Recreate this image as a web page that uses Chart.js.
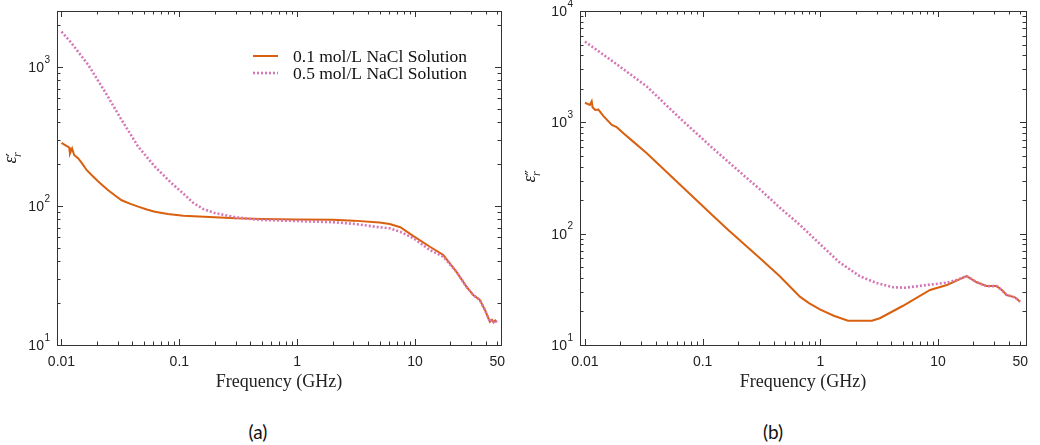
<!DOCTYPE html>
<html>
<head>
<meta charset="utf-8">
<script src="https://cdn.jsdelivr.net/npm/chart.js@4.4.1/dist/chart.umd.min.js"></script>
<style>
  html, body { margin: 0; padding: 0; background: #fff; }
  #wrap { position: relative; width: 1040px; height: 445px; }
  .panel { position: absolute; top: 0; width: 520px; height: 400px; }
  .cap { position: absolute; top: 419px; width: 60px; text-align: center;
         font-family: Lato, sans-serif; font-size: 19px; color: #111; line-height: 26px; }
</style>
</head>
<body>
<div id="wrap">
  <div class="panel" style="left:0"><canvas id="chartA" width="520" height="400"></canvas></div>
  <div class="panel" style="left:520px"><canvas id="chartB" width="520" height="400"></canvas></div>
  <div class="cap" style="left:228px">(a)</div>
  <div class="cap" style="left:743px">(b)</div>
</div>
<script>
// series labels
const seriesNames = ['0.1 mol/L NaCl Solution', '0.5 mol/L NaCl Solution'];

// (a) real part, 0.1 mol/L
const realFreq01 = [0.01, 0.0111, 0.0116, 0.0118, 0.0123, 0.0128, 0.0139, 0.0153, 0.0164, 0.018, 0.0205,
  0.0249, 0.0285, 0.0324, 0.038, 0.0448, 0.053, 0.062, 0.08, 0.108, 0.2, 0.3, 0.5, 1, 2, 3, 5, 6.1, 7.5,
  9.7, 13.4, 17.4, 22.5, 27.4, 31.2, 35.5, 39.2, 43.2, 45, 46.5, 48, 49.5];
const realEps01 = [285, 270, 264, 239, 260, 233, 220, 197, 181, 167, 150,
  130, 119, 110, 104, 99, 94.5, 91, 87.5, 85, 83, 81.5, 80.5, 80, 79.5, 78.5, 76, 74.2, 70.3,
  60.8, 50.9, 44.4, 33.6, 26.2, 22.9, 21.1, 17.9, 14.7, 15.2, 14.6, 15, 14.6];

// (a) real part, 0.5 mol/L
const realFreq05 = [0.01, 0.0122, 0.0169, 0.0234, 0.0324, 0.0448, 0.062, 0.0859, 0.108, 0.13, 0.16, 0.2,
  0.3, 0.48, 1, 2, 3, 5, 6.1, 7.5, 9.7, 13.4, 17.4, 22.5, 27.4, 31.2, 35.5, 39.2, 43.2, 45, 46.5, 48, 49.5];
const realEps05 = [1795, 1482, 1033, 664, 416, 267, 192, 146, 123, 106, 95, 89,
  83, 79.5, 78, 76.5, 74.5, 70.3, 69.2, 65.3, 58.6, 48.2, 43.2, 33.6, 26.2, 22.9, 21.1, 17.9, 14.7, 15.2, 14.6, 15, 14.6];

// (b) imaginary part, 0.1 mol/L
const imagFreq01 = [0.01, 0.011, 0.0114, 0.0116, 0.0122, 0.013, 0.0143, 0.0169, 0.0186, 0.0212, 0.0257,
  0.0335, 0.064, 0.123, 0.165, 0.297, 0.45, 0.67, 0.8, 1.0, 1.3, 1.72, 2.74, 3.2, 5.0, 8.55, 11.9, 14.4, 17.5,
  21.3, 25.9, 31.5, 34.8, 38.3, 45.1, 49.8];
const imagEps01 = [1500, 1432, 1547, 1368, 1292, 1302, 1143, 948, 904, 798, 671,
  528, 276, 144, 108, 62, 41.7, 27.2, 23.8, 20.8, 18.3, 16.5, 16.5, 17.4, 22.4, 31.2, 34.6, 37.8, 41.6,
  36.6, 33.8, 33.8, 31.2, 28.1, 26.8, 24.5];

// (b) imaginary part, 0.5 mol/L
const imagFreq05 = [0.01, 0.0174, 0.0335, 0.064, 0.123, 0.237, 0.307, 0.45, 0.67, 1.0, 1.43, 2.16,
  3.0, 4.17, 5.3, 8.0, 11.9, 14.4, 17.5, 21.3, 25.9, 31.5, 34.8, 38.3, 45.1, 49.8];
const imagEps05 = [5310, 3500, 2100, 1090, 580, 316, 250, 172, 120, 80, 56, 41.5,
  36, 33, 32.7, 34.6, 36.3, 38.5, 41.6, 36.6, 33.8, 33.8, 31.2, 28.1, 26.8, 24.5];

// tick labels
const xLabelValues = [0.01, 0.1, 1, 10, 50];
const xLabelTexts = ['0.01', '0.1', '1', '10', '50'];
const realYDecades = [10, 100, 1000];
const imagYDecades = [10, 100, 1000, 10000];

const ORANGE = '#D9600F';
const PINK = '#D676B6';

function pts(fs, vs) { return fs.map((f, i) => ({ x: f, y: vs[i] })); }

// minor + major log ticks between lo and hi
function logTicks(lo, hi) {
  const out = [];
  for (let d = Math.pow(10, Math.floor(Math.log10(lo))); d <= hi; d *= 10) {
    for (let m = 1; m <= 9; m++) {
      const v = +(m * d).toPrecision(6);
      if (v >= lo * 0.999 && v <= hi) out.push({ value: v, major: m === 1 });
    }
  }
  return out;
}

function makeDatasets(f1, v1, f2, v2) {
  return [
    { label: seriesNames[0], data: pts(f1, v1), borderColor: ORANGE, borderWidth: 2,
      pointRadius: 0, tension: 0, order: 2 },
    { label: seriesNames[1], data: pts(f2, v2), borderColor: PINK, borderWidth: 2.6,
      borderDash: [2, 2], pointRadius: 0, tension: 0, order: 1 }
  ];
}

const decor = {
  id: 'decor',
  afterDraw(chart, args, o) {
    const { ctx, chartArea: a, scales: { x, y } } = chart;
    ctx.save();
    // frame and inward ticks
    ctx.strokeStyle = '#333';
    ctx.lineWidth = 1;
    ctx.strokeRect(Math.round(a.left) + 0.5, Math.round(a.top) + 0.5,
      Math.round(a.right - a.left), Math.round(a.bottom - a.top));
    ctx.beginPath();
    x.ticks.forEach(t => {
      const px = Math.round(x.getPixelForValue(t.value)) + 0.5;
      const len = t.major ? 6 : 3.5;
      ctx.moveTo(px, a.bottom); ctx.lineTo(px, a.bottom - len);
      ctx.moveTo(px, a.top); ctx.lineTo(px, a.top + len);
    });
    y.ticks.forEach(t => {
      const py = Math.round(y.getPixelForValue(t.value)) + 0.5;
      const len = t.major ? 6 : 3.5;
      ctx.moveTo(a.left, py); ctx.lineTo(a.left + len, py);
      ctx.moveTo(a.right, py); ctx.lineTo(a.right - len, py);
    });
    ctx.stroke();

    // y tick labels 10^n
    ctx.fillStyle = '#222';
    ctx.textBaseline = 'middle';
    o.decades.forEach(v => {
      const py = y.getPixelForValue(v);
      const exp = String(Math.round(Math.log10(v)));
      const right = a.left - 7;
      ctx.font = '10px "Liberation Sans"';
      ctx.textAlign = 'right';
      const we = ctx.measureText(exp).width;
      ctx.fillText(exp, right, py - 7);
      ctx.font = '14px "Liberation Sans"';
      ctx.fillText('10', right - we - 0.5, py + 1);
    });

    // y axis title
    ctx.translate(o.titleX, o.titleY);
    ctx.rotate(-Math.PI / 2);
    ctx.textAlign = 'left';
    ctx.textBaseline = 'alphabetic';
    ctx.font = 'italic 18px "Liberation Serif"';
    const wEps = ctx.measureText('ε').width;
    const x0 = -(wEps + 6) / 2;
    ctx.fillText('ε', x0, 4);
    ctx.font = '15px "DejaVu Sans"';
    ctx.fillText(o.primes, x0 + wEps, 6);
    ctx.font = 'italic 12px "Liberation Serif"';
    ctx.fillText('r', x0 + wEps - 0.5, 9);
    ctx.setTransform(1, 0, 0, 1, 0, 0);

    // legend
    if (o.legend) {
      chart.data.datasets.forEach((ds, i) => {
        const ly = o.legend.y + i * o.legend.step;
        ctx.strokeStyle = ds.borderColor;
        ctx.lineWidth = ds.borderWidth;
        ctx.setLineDash(ds.borderDash || []);
        ctx.beginPath();
        ctx.moveTo(o.legend.x, ly); ctx.lineTo(o.legend.x + 25, ly);
        ctx.stroke();
        ctx.setLineDash([]);
        ctx.fillStyle = '#111';
        ctx.font = '17.5px "Liberation Serif"';
        ctx.textBaseline = 'middle';
        ctx.fillText(ds.label, o.legend.x + 40, ly + 1);
      });
    }
    ctx.restore();
  }
};

function makeChart(id, datasets, cfg) {
  return new Chart(document.getElementById(id), {
    type: 'line',
    data: { datasets },
    plugins: [decor],
    options: {
      responsive: false,
      animation: false,
      events: [],
      layout: { padding: { top: 11, right: cfg.padRight, left: 0, bottom: 0 } },
      plugins: {
        legend: { display: false },
        tooltip: { enabled: false },
        decor: cfg.decor
      },
      scales: {
        x: {
          type: 'logarithmic',
          min: cfg.xMin, max: cfg.xMax, bounds: 'data',
          grid: { display: false, drawTicks: false },
          border: { display: false },
          afterBuildTicks: s => { s.ticks = logTicks(0.01, 50); },
          afterFit: s => { s.height = 55; },
          ticks: {
            autoSkip: false, maxRotation: 0, padding: 9,
            color: '#222', font: { family: 'Liberation Sans', size: 14 },
            callback: v => {
              const k = xLabelValues.findIndex(L => Math.abs(L - v) / L < 1e-6);
              return k >= 0 ? xLabelTexts[k] : '';
            }
          },
          title: {
            display: true, text: 'Frequency (GHz)', color: '#222',
            font: { family: 'Liberation Serif', size: 18 },
            padding: { top: 0, bottom: 7 }
          }
        },
        y: {
          type: 'logarithmic',
          min: cfg.yMin, max: cfg.yMax, bounds: 'data',
          grid: { display: false, drawTicks: false },
          border: { display: false },
          afterBuildTicks: s => { s.ticks = logTicks(cfg.yMin, cfg.yMax); },
          afterFit: s => { s.width = cfg.yWidth; },
          ticks: { display: false }
        }
      }
    }
  });
}

makeChart('chartA', makeDatasets(realFreq01, realEps01, realFreq05, realEps05), {
  xMin: 0.00916, xMax: 53.7, yMin: 10, yMax: 2530, yWidth: 57, padRight: 19,
  decor: { decades: realYDecades, primes: '′', titleX: 12, titleY: 157,
           legend: { x: 253, y: 56, step: 17 } }
});

makeChart('chartB', makeDatasets(imagFreq01, imagEps01, imagFreq05, imagEps05), {
  xMin: 0.00907, xMax: 55.9, yMin: 10, yMax: 10000, yWidth: 60, padRight: 14,
  decor: { decades: imagYDecades, primes: '″', titleX: 11, titleY: 176, legend: null }
});
</script>
</body>
</html>
